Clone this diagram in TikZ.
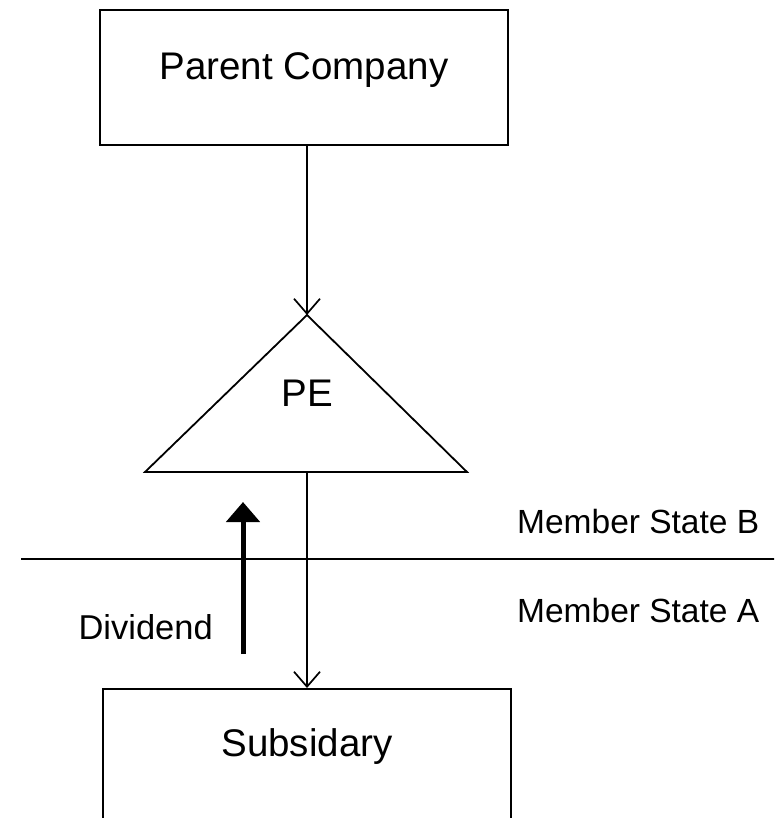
\documentclass[tikz,border=0pt]{standalone}
\usepackage{fontspec}
\setmainfont{Liberation Sans}
\usetikzlibrary{arrows.meta}
\tikzset{
  boxnode/.style={draw, line width=1.8pt, minimum width=408pt, minimum height=135pt, inner sep=0pt},
  bigtxt/.style={inner sep=0pt, font=\fontsize{38.5}{42}\selectfont},
  lbl/.style={inner sep=0pt, font=\fontsize{33.5}{38}\selectfont},
  thinarrow/.style={line width=1.7pt, -{Straight Barb[length=15pt,width=26pt,line width=1.7pt]}},
  fatarrow/.style={line width=5pt, -{Triangle[length=20pt,width=33pt]}},
  divline/.style={line width=1.8pt},
}
\begin{document}
\begin{tikzpicture}[x=1pt,y=-1pt]
\useasboundingbox (0,0) rectangle (774,818);
\clip (0,0) rectangle (774,818);
\fill[white] (0,0) rectangle (774,818);
% nodes
\node[boxnode] (parent) at (304,77.5) {};
\node[bigtxt] (parenttxt) at (304,70) {Parent Company};
\coordinate (apex) at (307,315);
\coordinate (bl) at (145,472);
\coordinate (br) at (467,472);
\coordinate (basemid) at (307,472);
\draw[line width=1.8pt, line join=miter] (apex) -- (br) -- (bl) -- cycle;
\node[bigtxt] (pe) at (307,393) {PE};
\node[boxnode, anchor=north] (sub) at (307,688) {};
\node[bigtxt] (subtxt) at (307,747) {Subsidary};
% border line
\coordinate (hl) at (21,559);
\coordinate (hr) at (776,559);
\draw[divline] (hl) -- (hr);
\node[lbl, anchor=west] (msb) at (517,522) {Member State B};
\node[lbl, anchor=west] (msa) at (517,611) {Member State A};
\node[lbl, font=\fontsize{34.5}{38}\selectfont, anchor=east] (div) at (213,627) {Dividend};
% connectors
\draw[thinarrow] (parent.south -| apex) -- (apex);
\draw[thinarrow] (basemid) -- (sub.north);
\coordinate (dtail) at (243,654);
\coordinate (dtip) at (243,502);
\draw[fatarrow] (dtail) -- (dtip);
\end{tikzpicture}
\end{document}
